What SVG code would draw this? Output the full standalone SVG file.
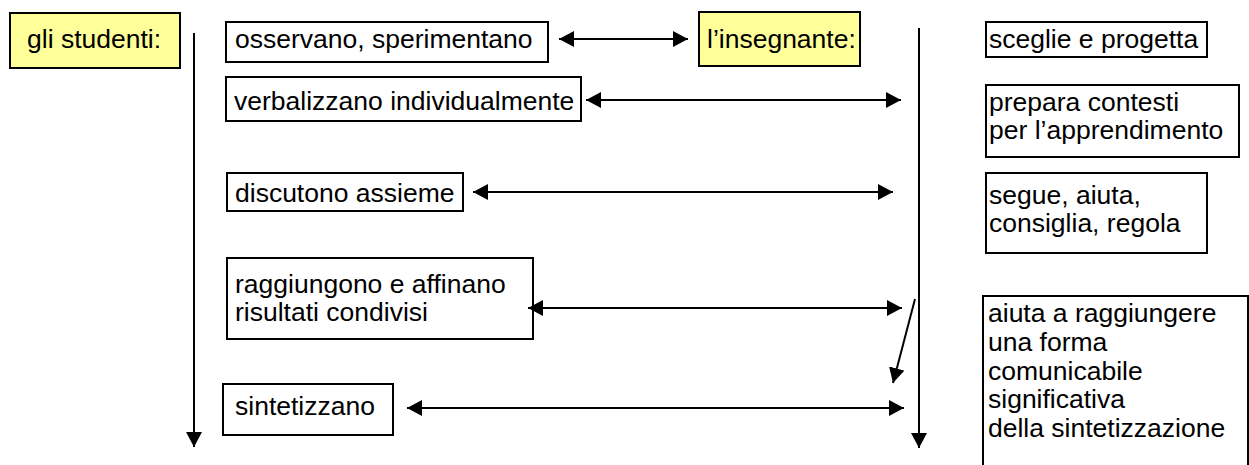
<svg xmlns="http://www.w3.org/2000/svg" width="1249" height="465" viewBox="0 0 1249 465">
<defs>
<marker id="ah" viewBox="0 0 15 16" refX="15" refY="8" markerWidth="15" markerHeight="16" markerUnits="userSpaceOnUse" orient="auto-start-reverse"><path d="M0,0 L15,8 L0,16 z" fill="#000"/></marker>
<style>
.b{fill:#fff;stroke:#000;stroke-width:2}
.y{fill:#ffff99;stroke:#000;stroke-width:2}
text{font-family:"Liberation Sans",Arial,sans-serif;font-size:26.5px;fill:#000}
.c line{stroke:#000;stroke-width:2}
</style>
</defs>
<rect width="1249" height="465" fill="#fff"/>
<g id="studenti"><rect class="y" x="10" y="13" width="170" height="55"/><text x="27" y="48">gli studenti:</text></g>
<g id="osservano"><rect class="b" x="226" y="22" width="322" height="40"/><text x="235" y="48">osservano, sperimentano</text></g>
<g id="insegnante"><rect class="y" x="699" y="12" width="161" height="54"/><text x="707" y="48">l’insegnante:</text></g>
<g id="sceglie"><rect class="b" x="986" y="22" width="221" height="35"/><text x="989" y="48">sceglie e progetta</text></g>
<g id="verbalizzano"><rect class="b" x="226" y="77" width="355" height="44"/><text x="234" y="110">verbalizzano individualmente</text></g>
<g id="prepara"><rect class="b" x="986" y="85" width="253" height="72"/><text x="989" y="111">prepara contesti</text><text x="989" y="139">per l’apprendimento</text></g>
<g id="discutono"><rect class="b" x="227" y="173" width="236" height="38"/><text x="235" y="202">discutono assieme</text></g>
<g id="segue"><rect class="b" x="986" y="173" width="221" height="80"/><text x="989" y="204">segue, aiuta,</text><text x="989" y="232">consiglia, regola</text></g>
<g id="raggiungono"><rect class="b" x="227" y="258" width="306" height="81"/><text x="235" y="293">raggiungono e affinano</text><text x="235" y="321">risultati condivisi</text></g>
<g id="aiuta"><path class="b" d="M983,466 V296 H1248 V466"/><text x="988" y="322">aiuta a raggiungere</text><text x="988" y="351">una forma</text><text x="988" y="380">comunicabile</text><text x="988" y="408">significativa</text><text x="988" y="437">della sintetizzazione</text></g>
<g id="sintetizzano"><rect class="b" x="223" y="384" width="170" height="51"/><text x="235" y="415">sintetizzano</text></g>
<g id="connectors" class="c">
<line x1="194" y1="33" x2="194" y2="447" marker-end="url(#ah)"/>
<line x1="919" y1="28" x2="919" y2="448" marker-end="url(#ah)"/>
<line x1="559" y1="39" x2="688" y2="39" marker-start="url(#ah)" marker-end="url(#ah)"/>
<line x1="586" y1="100" x2="901" y2="100" marker-start="url(#ah)" marker-end="url(#ah)"/>
<line x1="473" y1="192" x2="893" y2="192" marker-start="url(#ah)" marker-end="url(#ah)"/>
<line x1="528" y1="308" x2="902" y2="308" marker-start="url(#ah)" marker-end="url(#ah)"/>
<line x1="915" y1="299" x2="893" y2="383" marker-end="url(#ah)"/>
<line x1="407" y1="408" x2="904" y2="408" marker-start="url(#ah)" marker-end="url(#ah)"/>
</g>
</svg>
